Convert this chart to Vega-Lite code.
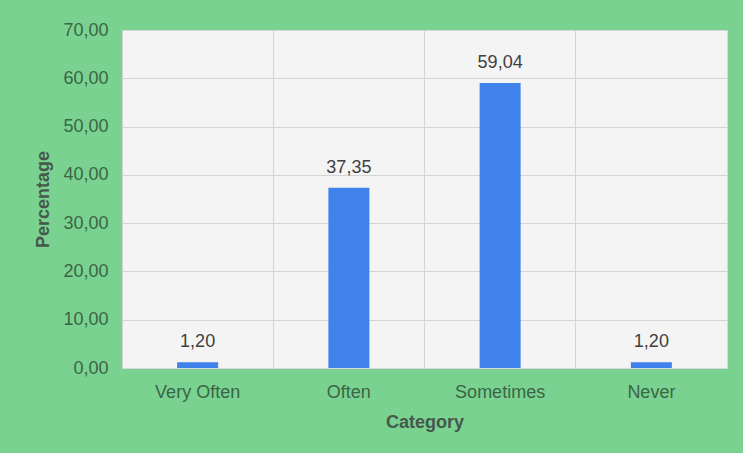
{
  "$schema": "https://vega.github.io/schema/vega-lite/v6.json",
  "width": 605,
  "height": 338,
  "autosize": {"type": "none"},
  "padding": {"left": 122, "top": 30, "right": 16, "bottom": 85},
  "background": "#79d28f",
  "config": {
    "locale": {"number": {"decimal": ",", "thousands": ".", "grouping": [3], "currency": ["", " €"]}},
    "view": {"fill": "#f4f4f4", "stroke": "#d9d9d9"},
    "font": "Liberation Sans"
  },
  "data": {
    "values": [
      {"category": "Very Often", "percentage": 1.20},
      {"category": "Often", "percentage": 37.35},
      {"category": "Sometimes", "percentage": 59.04},
      {"category": "Never", "percentage": 1.20}
    ]
  },
  "encoding": {
    "x": {
      "field": "category", "type": "nominal", "sort": null,
      "scale": {"paddingInner": 0, "paddingOuter": 0},
      "axis": {
        "title": "Category", "labelAngle": 0, "labelFontSize": 18, "labelColor": "#3b6547",
        "titleFontSize": 18, "titleColor": "#46574c", "titleFontWeight": "bold",
        "ticks": false, "domain": true, "domainColor": "#d9d9d9",
        "grid": true, "bandPosition": 0, "gridColor": "#d4d4d4",
        "labelPadding": 15, "titlePadding": 12
      }
    },
    "y": {
      "field": "percentage", "type": "quantitative",
      "scale": {"domain": [0, 70]},
      "axis": {
        "title": "Percentage", "values": [0, 10, 20, 30, 40, 50, 60, 70], "format": ".2f",
        "labelFontSize": 18, "labelColor": "#3b6547", "titleFontSize": 18, "titleColor": "#46574c",
        "titleFontWeight": "bold", "ticks": false, "domain": false, "gridColor": "#d4d4d4",
        "labelPadding": 14, "titlePadding": 10
      }
    }
  },
  "layer": [
    {"mark": {"type": "bar", "size": 41, "color": "#3f82ec"}},
    {
      "mark": {"type": "text", "dy": -20, "fontSize": 18, "color": "#404040"},
      "encoding": {"text": {"field": "percentage", "type": "quantitative", "format": ".2f"}}
    }
  ]
}
